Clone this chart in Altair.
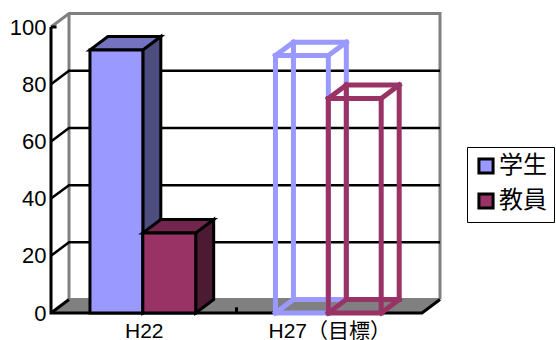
import altair as alt
import pandas as pd

# Survey values per period
categories = ["H22", "H27（目標）"]
series_names = ["学生", "教員"]
student = [92, 90]
teacher = [28, 75]
y_ticks = [0, 20, 40, 60, 80, 100]

# Colours of the two series: front, top face, side face
front = {"学生": "#9999FF", "教員": "#993366"}
top_face = {"学生": "#7373BF", "教員": "#73264D"}
side_face = {"学生": "#4D4D80", "教員": "#4D1A33"}
GRAY = "#808080"

# Pseudo-3D depth, in data units of each axis
DX = 0.097
DY = 4.7
BAR_START = 0.21
BAR_W = 0.285

X_SCALE = alt.Scale(domain=[0, 2], nice=False, zero=False)
Y_SCALE = alt.Scale(domain=[0, 100], nice=False, zero=False)
LABEL_FONT = "Liberation Sans, Noto Sans CJK JP"

label_expr = f"datum.value < 1 ? '{categories[0]}' : '{categories[1]}'"
X_AXIS = alt.Axis(values=[0.5, 1.5], labelExpr=label_expr, title=None, domain=False, ticks=False,
                  grid=False, labelFont=LABEL_FONT, labelFontSize=21, labelColor="black",
                  labelPadding=7, labelOverlap=False, labelFlush=False)
Y_AXIS = alt.Axis(values=y_ticks, title=None, domain=False, ticks=False, grid=False,
                  labelFont=LABEL_FONT, labelFontSize=22, labelColor="black", labelPadding=5)


def xq(field="x"):
    return alt.X(f"{field}:Q", scale=X_SCALE, axis=X_AXIS)


def yq(field="y"):
    return alt.Y(f"{field}:Q", scale=Y_SCALE, axis=Y_AXIS)


def polylines(paths, color, width, cap="butt"):
    """Draw a list of point paths as one line layer."""
    rows = []
    for pid, path in enumerate(paths):
        for i, (px, py) in enumerate(path):
            rows.append({"pid": pid, "i": i, "x": px, "y": py})
    return alt.Chart(pd.DataFrame(rows)).mark_line(
        color=color, strokeWidth=width, strokeCap=cap, strokeJoin="miter", clip=False
    ).encode(x=xq(), y=yq(), detail="pid:N", order="i:Q")


# Floor of the box
floor = alt.Chart(pd.DataFrame({
    "x": [0, DX], "x2": [2, 2 + DX], "y": [0, DY],
})).mark_area(orient="horizontal", color=GRAY, clip=False).encode(
    x=xq(), x2="x2:Q", y=yq()
)

# Back wall and its grey frame
frame = polylines([
    [(0, 100), (DX, 100 + DY), (2 + DX, 100 + DY), (2 + DX, DY)],
    [(DX, 100 + DY), (DX, DY), (2 + DX, DY)],
], GRAY, 3)

# Gridlines wrap from the axis around to the back wall
grid_paths = [[(0, v), (DX, v + DY), (2 + DX, v + DY)] for v in y_ticks[1:-1]]
grid = polylines(grid_paths, "black", 2.5)

# Axis lines, the floor's front corners and short ticks
axes = polylines([
    [(0, 100), (0, 0), (2, 0), (2 + DX, DY)],
    [(0, 0), (DX, DY)],
    [(1, 0), (1, 2)],
    [(0, 100), (0.03, 100)],
], "black", 3)


def solid_bar(left, value, name):
    """Filled box: side and top faces plus the front face."""
    right = left + BAR_W
    side = alt.Chart(pd.DataFrame({
        "x": [right, right + DX], "y": [0, DY], "y2": [value, value + DY],
    })).mark_area(color=side_face[name], stroke="black", strokeWidth=3, clip=False).encode(
        x=xq(), y=yq(), y2="y2:Q"
    )
    top = alt.Chart(pd.DataFrame({
        "x": [left, left + DX], "x2": [right, right + DX], "y": [value, value + DY],
    })).mark_area(orient="horizontal", color=top_face[name], stroke="black", strokeWidth=3,
                  clip=False).encode(x=xq(), x2="x2:Q", y=yq())
    face = alt.Chart(pd.DataFrame({
        "x": [left], "x2": [right], "y": [0], "y2": [value], "series": [name],
    })).mark_rect(stroke="black", strokeWidth=3, clip=False).encode(
        x=xq(), x2="x2:Q", y=yq(), y2="y2:Q",
        fill=alt.Fill("series:N", title=None,
                      scale=alt.Scale(domain=series_names, range=[front[s] for s in series_names]),
                      legend=alt.Legend(
                          orient="none", legendX=416, legendY=120, title=None,
                          symbolType="square", symbolSize=200, symbolStrokeColor="black",
                          symbolStrokeWidth=3, labelFont="Noto Sans CJK JP", labelFontSize=24,
                          labelColor="black", strokeColor="black", fillColor="white",
                          padding=7, rowPadding=7, labelOffset=1, labelLimit=80,
                      )),
    )
    return [side, top, face]


def outline_bar(left, value, name):
    """Wire-frame box for a target value."""
    r = left + BAR_W
    paths = [
        [(left + DX, DY), (left + DX, value + DY), (r + DX, value + DY), (r + DX, DY), (left + DX, DY)],
        [(left, 0), (left, value), (r, value), (r, 0), (left, 0)],
        [(left, 0), (left + DX, DY)],
        [(r, 0), (r + DX, DY)],
        [(left, value), (left + DX, value + DY)],
        [(r, value), (r + DX, value + DY)],
    ]
    return polylines(paths, front[name], 5, cap="square")


lefts = [i + BAR_START for i in range(len(categories))]
layers = [floor, frame, grid, axes]
layers += solid_bar(lefts[0], student[0], series_names[0])
layers += solid_bar(lefts[0] + BAR_W, teacher[0], series_names[1])
layers += [outline_bar(lefts[1], student[1], series_names[0])]
layers += [outline_bar(lefts[1] + BAR_W, teacher[1], series_names[1])]

chart = alt.layer(*layers).properties(
    width=371,
    height=286,
    autosize=alt.AutoSizeParams(type="none"),
    padding={"left": 51, "top": 27, "right": 134, "bottom": 27},
    background="white",
).configure_view(stroke=None)

chart.save("out.html", embed_options={"renderer": "svg", "actions": False})
